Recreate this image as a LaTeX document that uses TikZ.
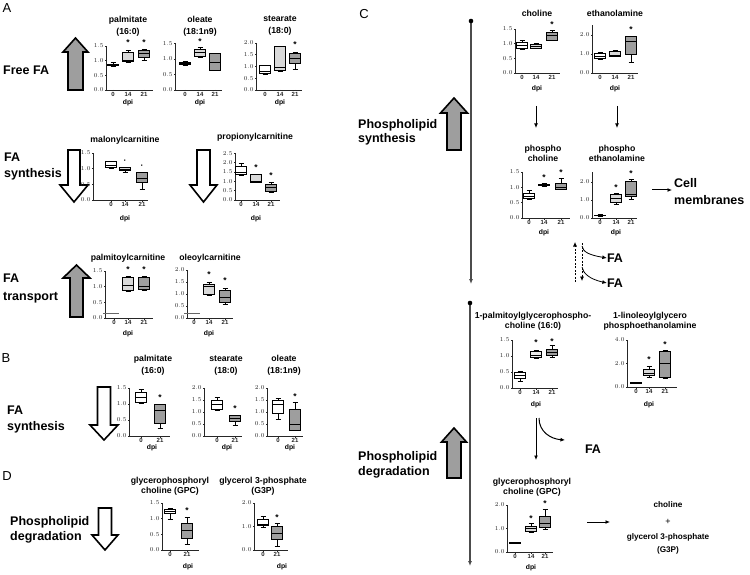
\documentclass[tikz,border=0pt]{standalone}
\usepackage{fontspec}
\setmainfont{Liberation Sans}
\usetikzlibrary{arrows.meta}
\definecolor{lg}{gray}{0.85}
\definecolor{mg}{gray}{0.62}
\newcommand\bw{5.5}
\newcommand\setplot[3]{\def\Xo{#1}\def\Yo{#2}\def\Sc{#3}}
\newcommand\axes[3]{%
  \draw[axisl] (\Xo,{\Yo-(#2)*\Sc}) -- (\Xo,\Yo) -- ({\Xo+#1},\Yo);
  \foreach \t in {#3}{%
    \draw[axisl] (\Xo,{\Yo-\t*\Sc}) -- ++(-1.5,0) node[ticklab,left]{\pgfmathprintnumber[fixed,fixed zerofill,precision=1]{\t}};}%
}
\newcommand\bx[8]{%
  \draw[whl] (#1,{\Yo-(#3)*\Sc}) -- (#1,{\Yo-(#4)*\Sc}) (#1,{\Yo-(#6)*\Sc}) -- (#1,{\Yo-(#7)*\Sc})
     ({#1-2.5},{\Yo-(#3)*\Sc}) -- ({#1+2.5},{\Yo-(#3)*\Sc}) ({#1-2.5},{\Yo-(#7)*\Sc}) -- ({#1+2.5},{\Yo-(#7)*\Sc});
  \draw[whl,fill=#8] ({#1-\bw},{\Yo-(#4)*\Sc}) rectangle ({#1+\bw},{\Yo-(#6)*\Sc});
  \draw[whl] ({#1-\bw},{\Yo-(#5)*\Sc}) -- ({#1+\bw},{\Yo-(#5)*\Sc});
  \draw[axisl] (#1,\Yo) -- ++(0,1.5) node[ticklab,below]{#2};
}
\newcommand\xt[2]{\draw[axisl] (#1,\Yo) -- ++(0,1.5) node[ticklab,below]{#2};}
\newcommand\st[2]{\node[starl] at (#1,{\Yo-(#2)*\Sc}) {*};}
\newcommand\dt[2]{\node[starl] at (#1,{\Yo-(#2)*\Sc}) {·};}
\newcommand\fatarrow[7]{\draw[fatarr,fill=#7] (#1,#2) -- ({#1+#6},#3) -- ({#1+#5},#3) -- ({#1+#5},#4) -- ({#1-#5},#4) -- ({#1-#5},#3) -- ({#1-#6},#3) -- cycle;}
\begin{document}
\begin{tikzpicture}[x=1pt,y=-1pt,
 axisl/.style={line width=0.65pt,black!85},
 whl/.style={line width=0.65pt,black},
 ticklab/.style={font=\fontsize{6}{6.5}\selectfont\bfseries,inner sep=0.6pt},
 ttl/.style={font=\fontsize{8.7}{12}\selectfont\bfseries,align=center,inner sep=0pt},
 ttlc/.style={font=\fontsize{8.7}{10}\selectfont\bfseries,align=center,inner sep=0pt},
 dpil/.style={font=\fontsize{6.8}{7}\selectfont\bfseries,inner sep=0pt},
 starl/.style={font=\fontsize{8.5}{9}\selectfont\bfseries,inner sep=0pt},
 big/.style={font=\fontsize{12.5}{15}\selectfont\bfseries,align=left,inner sep=0pt,anchor=west},
 panel/.style={font=\fontsize{13}{15}\selectfont,inner sep=0pt},
 fatarr/.style={line width=1.6pt,black,line join=miter},
 conn/.style={line width=1pt,-{Latex[length=4.5pt,width=4pt]}},
 tline/.style={line width=1.1pt,black!70},
]
\useasboundingbox (0,0) rectangle (750,575);
% ---------- panel letters
\node[panel] (pA) at (7,8) {A};
\node[panel] (pB) at (6,358) {B};
\node[panel] (pC) at (364,14) {C};
\node[panel] (pD) at (7,476) {D};

% ================= Panel A =================
\fatarrow{75.5}{38}{52}{90}{7.5}{12.5}{mg}
\node[big] (lfree) at (3,70) {Free FA};
% palmitate
\setplot{106}{90}{29.3}
\axes{47}{1.5}{0,0.5,1,1.5}
\bx{113}{0}{0.82}{0.84}{0.86}{0.88}{0.93}{white}
\bx{128}{14}{0.95}{0.98}{1.0}{1.3}{1.37}{lg}\st{128}{1.62}
\bx{144}{21}{1.0}{1.12}{1.25}{1.36}{1.4}{mg}\st{144}{1.62}
\node[dpil] (dA1) at (128,103) {dpi};
\node[ttl] (tA1) at (128,26) {palmitate\\(16:0)};
% oleate
\setplot{175}{90}{31}
\axes{47}{1.5}{0,0.5,1,1.5}
\bx{185}{0}{0.8}{0.82}{0.85}{0.88}{0.92}{white}
\bx{200}{14}{1.05}{1.08}{1.2}{1.3}{1.38}{lg}\st{200}{1.57}
\bx{215}{21}{0.62}{0.65}{0.9}{1.17}{1.18}{mg}
\node[dpil] (dA2) at (200,103) {dpi};
\node[ttl] (tA2) at (200,26) {oleate\\(18:1n9)};
% stearate
\setplot{256}{90}{23.5}
\axes{46}{2}{0,0.5,1,1.5,2}
\bx{265}{0}{0.68}{0.72}{0.78}{1.05}{1.05}{white}
\bx{280}{14}{0.8}{0.85}{0.95}{1.85}{1.87}{lg}
\bx{295}{21}{0.9}{1.15}{1.35}{1.55}{1.6}{mg}\st{295}{1.95}
\node[dpil] (dA3) at (280,103) {dpi};
\node[ttl] (tA3) at (280,25.5) {stearate\\(18:0)};

% FA synthesis (A)
\fatarrow{74}{202}{185}{150}{6}{14}{white}
\fatarrow{203.5}{202}{185}{150}{6.5}{13.5}{white}
\node[big,font=\fontsize{12.5}{16.5}\selectfont\bfseries] (lsynA) at (4,166.5) {FA\\synthesis};
% malonylcarnitine
\setplot{93}{200}{31.3}
\axes{55}{1.5}{0,0.5,1,1.5}
\bx{111}{0}{1.02}{1.05}{1.12}{1.23}{1.25}{white}
\bx{125}{14}{0.88}{0.95}{0.98}{1.03}{1.05}{lg}\dt{125}{1.22}
\bx{142}{21}{0.35}{0.55}{0.7}{0.9}{0.9}{mg}\dt{142}{1.07}
\node[dpil] (dA4) at (125,219) {dpi};
\node[ttl] (tA4) at (125,140) {malonylcarnitine};
% propionylcarnitine
\setplot{235}{200}{18.7}
\axes{45}{2.5}{0,0.5,1,1.5,2,2.5}
\bx{241}{0}{1.3}{1.35}{1.5}{1.8}{1.95}{white}
\bx{256}{14}{0.92}{0.95}{1.0}{1.35}{1.35}{lg}\st{256}{1.72}
\bx{271}{21}{0.4}{0.45}{0.7}{0.85}{0.95}{mg}\st{271}{1.32}
\node[dpil] (dA5) at (256,219) {dpi};
\node[ttl] (tA5) at (255,137) {propionylcarnitine};

% FA transport
\fatarrow{76.5}{265}{278}{317}{6.5}{13.5}{mg}
\node[big,font=\fontsize{12.5}{18}\selectfont\bfseries] (ltra) at (3,288) {FA\\transport};
% palmitoylcarnitine
\setplot{105}{318}{31.3}
\axes{48}{1.5}{0,0.5,1,1.5}
\draw[black!60,line width=1pt] (103,{318-0.15*31.3}) -- (119,{318-0.15*31.3});
\xt{114}{0}
\bx{128}{14}{0.85}{0.88}{1.05}{1.3}{1.32}{lg}\st{128}{1.55}
\bx{144}{21}{0.9}{0.92}{1.02}{1.3}{1.33}{mg}\st{144}{1.55}
\node[dpil] (dA6) at (128,334) {dpi};
\node[ttl] (tA6) at (128,258) {palmitoylcarnitine};
% oleoylcarnitine
\setplot{187}{318}{24}
\axes{46}{2}{0,0.5,1,1.5,2}
\draw[black!60,line width=1pt] (184,{318-0.2*24}) -- (200,{318-0.2*24});
\xt{194}{0}
\bx{209}{14}{0.95}{0.98}{1.3}{1.4}{1.5}{lg}\st{209}{1.8}
\bx{225}{21}{0.55}{0.65}{0.85}{1.15}{1.25}{mg}\st{225}{1.55}
\node[dpil] (dA7) at (209,334) {dpi};
\node[ttl] (tA7) at (210,258) {oleoylcarnitine};

% ================= Panel B =================
\fatarrow{104}{440}{425}{387}{6.5}{14}{white}
\node[big,font=\fontsize{12.5}{15.5}\selectfont\bfseries] (lsynB) at (7,419.5) {FA\\synthesis};
\setplot{129}{436}{32}
\axes{41}{1.5}{0,0.5,1,1.5}
\bx{141}{0}{1.02}{1.05}{1.2}{1.35}{1.45}{white}
\bx{160}{21}{0.25}{0.4}{0.8}{0.98}{1.0}{mg}\st{160}{1.2}
\node[dpil] (dB1) at (152,447.5) {dpi};
\node[ttl] (tB1) at (153,365.5) {palmitate\\(16:0)};
\setplot{204}{436}{24}
\axes{38}{2}{0,0.5,1,1.5,2}
\bx{217}{0}{1.05}{1.1}{1.3}{1.5}{1.6}{white}
\bx{235}{21}{0.45}{0.6}{0.75}{0.85}{0.88}{mg}\st{235}{1.15}
\node[dpil] (dB2) at (227,447.5) {dpi};
\node[ttl] (tB2) at (226,365.5) {stearate\\(18:0)};
\setplot{267}{436}{24}
\axes{36}{2}{0,0.5,1,1.5,2}
\bx{278}{0}{0.7}{0.95}{1.3}{1.5}{1.55}{white}
\bx{295}{21}{0.22}{0.25}{0.5}{1.1}{1.4}{mg}\st{295}{1.65}
\node[dpil] (dB3) at (290,447.5) {dpi};
\node[ttl] (tB3) at (284,365.5) {oleate\\(18:1n9)};

% ================= Panel D =================
\fatarrow{105}{550}{535}{508}{6.5}{13}{white}
\node[big,font=\fontsize{12.5}{14.5}\selectfont\bfseries] (ldegD) at (10,530) {Phospholipid\\degradation};
\setplot{162}{550}{31.3}
\axes{37}{1.5}{0,0.5,1,1.5}
\bx{170}{0}{0.97}{1.18}{1.25}{1.3}{1.32}{white}
\bx{187}{21}{0.18}{0.38}{0.62}{0.85}{1.03}{mg}\st{187}{1.25}
\node[dpil] (dD1) at (188,567) {dpi};
\node[ttlc] (tD1) at (170,486.5) {glycerophosphoryl\\choline (GPC)};
\setplot{254}{550}{23.5}
\axes{34}{2}{0,1,2}
\bx{263}{0}{0.95}{1.05}{1.1}{1.3}{1.42}{white}
\bx{277}{21}{0.15}{0.45}{0.7}{1.0}{1.15}{mg}\st{277}{1.4}
\node[dpil] (dD2) at (282,567) {dpi};
\node[ttlc] (tD2) at (263,486.5) {glycerol 3-phosphate\\(G3P)};

% ================= Panel C =================
% timelines
\coordinate (tl1a) at (471,21); \coordinate (tl1b) at (471,284);
\coordinate (tl2a) at (470,303); \coordinate (tl2b) at (470,566);
\draw[tline,-{Latex[length=5pt,width=4pt]}] (tl1a) -- (tl1b);
\fill (tl1a) circle (2.3);
\draw[tline,-{Latex[length=5pt,width=4pt]}] (tl2a) -- (tl2b);
\fill (tl2a) circle (2.3);
\fatarrow{454}{98}{113}{150}{7}{13.5}{mg}
\fatarrow{454}{428}{442}{478}{7}{12.5}{mg}
\node[big,font=\fontsize{12.5}{14}\selectfont\bfseries] (lsynC) at (358,132) {Phospholipid\\synthesis};
\node[big,font=\fontsize{12.5}{15}\selectfont\bfseries] (ldegC) at (358,464.5) {Phospholipid\\degradation};
% choline
\setplot{515}{73}{29.3}
\axes{45}{1.5}{0,0.5,1,1.5}
\bx{522}{0}{0.8}{0.85}{0.95}{1.05}{1.1}{white}
\bx{536}{14}{0.83}{0.85}{0.9}{0.98}{1.0}{lg}
\bx{552}{21}{1.1}{1.12}{1.3}{1.4}{1.45}{mg}\st{552}{1.65}
\node[dpil] (dC1) at (537,89) {dpi};
\node[ttl] (tC1) at (537,13) {choline};
% ethanolamine
\setplot{592}{73}{19}
\axes{46}{2.5}{0,1,2}
\bx{600}{0}{0.7}{0.75}{0.9}{1.05}{1.1}{white}
\bx{615}{14}{0.88}{0.9}{0.95}{1.15}{1.18}{lg}
\bx{631}{21}{0.55}{1.0}{1.65}{1.95}{1.95}{mg}\st{631}{2.28}
\node[dpil] (dC2) at (615,89) {dpi};
\node[ttl] (tC2) at (615,13) {ethanolamine};
% arrows
\coordinate (a1s) at (536,106); \coordinate (a1e) at (536,128);
\coordinate (a2s) at (617,106); \coordinate (a2e) at (617,128);
\draw[conn] (a1s) -- (a1e);
\draw[conn] (a2s) -- (a2e);
% phosphocholine
\setplot{522}{218}{30.7}
\axes{48}{1.5}{0,0.5,1,1.5}
\bx{529}{0}{0.62}{0.65}{0.72}{0.82}{0.9}{white}
\bx{544}{14}{1.03}{1.05}{1.07}{1.1}{1.12}{lg}\st{544}{1.32}
\bx{561}{21}{0.95}{0.95}{1.0}{1.12}{1.28}{mg}\st{561}{1.47}
\node[dpil] (dC3) at (544,233) {dpi};
\node[ttlc] (tC3) at (543,153) {phospho\\choline};
% phosphoethanolamine
\setplot{592}{218}{18}
\axes{45}{2.55}{0,1,2}
\bx{600}{0}{0.12}{0.13}{0.15}{0.17}{0.18}{black!70}
\bx{616}{14}{0.78}{0.85}{1.1}{1.3}{1.35}{lg}\st{616}{1.67}
\bx{631}{21}{1.05}{1.2}{1.3}{2.05}{2.15}{mg}\st{631}{2.47}
\node[dpil] (dC4) at (616,233) {dpi};
\node[ttlc] (tC4) at (617,153) {phospho\\ethanolamine};
% cell membranes
\coordinate (cms) at (652,190); \coordinate (cme) at (672,190);
\draw[conn] (cms) -- (cme);
\node[big,font=\fontsize{12.5}{17}\selectfont\bfseries] (cell) at (674,191.5) {Cell\\membranes};
% dashed arrows and FA
\coordinate (du1) at (575,282); \coordinate (du2) at (575,242);
\coordinate (dd1) at (582,243); \coordinate (dd2) at (582,281);
\draw[conn,dashed,line width=0.7pt,dash pattern=on 2pt off 1.5pt] (du1) -- (du2);
\draw[conn,dashed,line width=0.7pt,dash pattern=on 2pt off 1.5pt] (dd1) -- (dd2);
\node[big,anchor=center] (fa1) at (615,258) {FA};
\node[big,anchor=center] (fa2) at (615,283) {FA};
\coordinate (cu1) at (582,246); \coordinate (cu2) at (582,267);
\draw[conn,line width=0.8pt] (cu1) .. controls (583,252) and (589,255) .. (fa1.west);
\draw[conn,line width=0.8pt] (cu2) .. controls (583,273) and (589,279) .. (fa2.west);
% 1-palmitoylglycerophosphocholine
\setplot{512}{388}{32}
\axes{46}{1.5}{0,0.5,1,1.5}
\bx{520}{0}{0.22}{0.3}{0.4}{0.5}{0.52}{white}
\bx{536}{14}{0.92}{0.95}{1.02}{1.15}{1.18}{black!8}\st{536}{1.42}
\bx{552}{21}{0.97}{1.02}{1.12}{1.22}{1.32}{mg}\st{552}{1.45}
\node[dpil] (dC5) at (536,405) {dpi};
\node[ttlc] (tC5) at (533,321) {1-palmitoylglycerophospho-\\choline (16:0)};
% 1-linoleoylglycerophosphoethanolamine
\setplot{627}{387}{11.75}
\axes{50}{4}{0,2,4}
\bx{636}{0}{0.3}{0.32}{0.35}{0.38}{0.4}{black!70}
\bx{649}{14}{0.8}{1.0}{1.2}{1.5}{1.8}{lg}\st{649}{2.3}
\bx{665}{21}{0.7}{0.8}{2.0}{3.0}{3.1}{mg}\st{665}{3.65}
\node[dpil] (dC6) at (649,405) {dpi};
\node[ttlc] (tC6) at (650,321) {1-linoleoylglycero\\phosphoethanolamine};
% degradation arrows
\coordinate (g1s) at (536,418); \coordinate (g1e) at (536,460);
\coordinate (g2s) at (539,418);
\draw[conn] (g1s) -- (g1e);
\node[big,anchor=center] (fa3) at (593,449) {FA};
\coordinate (g2e) at (565,440);
\draw[conn] (g2s) .. controls (539,432) and (551,439) .. (g2e);
% GPC
\setplot{507}{552}{23.5}
\axes{46}{2}{0,1,2}
\bx{515}{0}{0.37}{0.38}{0.4}{0.42}{0.43}{white}
\bx{531}{14}{0.85}{0.9}{1.0}{1.1}{1.2}{lg}\st{531}{1.42}
\bx{545}{21}{0.95}{1.05}{1.2}{1.5}{1.8}{mg}\st{545}{2.08}
\node[dpil] (dC7) at (531,568) {dpi};
\node[ttlc] (tC7) at (532,487.5) {glycerophosphoryl\\choline (GPC)};
\coordinate (ps) at (587,522); \coordinate (pe) at (610,522);
\draw[conn] (ps) -- (pe);
\node[ttlc,font=\fontsize{8.2}{10}\selectfont\bfseries] (ch) at (668,505) {choline};
\node[ttlc,font=\fontsize{9}{10}\selectfont] (plus) at (668,522) {+};
\node[ttlc,font=\fontsize{8.2}{13}\selectfont\bfseries] (g3p) at (668,543.5) {glycerol 3-phosphate\\(G3P)};
\end{tikzpicture}
\end{document}
